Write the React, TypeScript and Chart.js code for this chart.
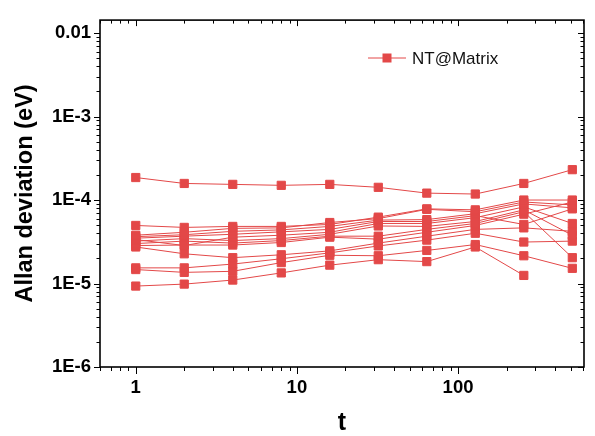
import { useEffect, useRef } from 'react';
import { Chart, registerables } from 'chart.js';

Chart.register(...registerables);

// averaging time t (s)
const tauValues = [1, 2, 4, 8, 16, 32, 64, 128, 256, 512];

// Allan deviation (eV) of each run
const run01 = [1.86e-4, 1.58e-4, 1.54e-4, 1.5e-4, 1.54e-4, 1.42e-4, 1.21e-4, 1.18e-4, 1.58e-4, 2.31e-4];
const run02 = [4.96e-5, 4.7e-5, 4.83e-5, 4.83e-5, 5.1e-5, 6.24e-5, 7.84e-5, 7.63e-5, 1.0e-4, 1.0e-4];
const run03 = [3.79e-5, 4.11e-5, 4.58e-5, 4.64e-5, 5.38e-5, 5.99e-5, 7.74e-5, 7.24e-5, 9.47e-5, 8.74e-5];
const run04 = [3.64e-5, 3.84e-5, 4.22e-5, 4.39e-5, 4.83e-5, 5.75e-5, 5.83e-5, 6.86e-5, 8.98e-5, 8.06e-5];
const run05 = [3.49e-5, 3.69e-5, 3.89e-5, 4.16e-5, 4.45e-5, 5.53e-5, 5.53e-5, 6.5e-5, 5.1e-5, 7.84e-5];
const run06 = [3.36e-5, 2.85e-5, 3.59e-5, 3.79e-5, 4.11e-5, 5.24e-5, 5.24e-5, 6.15e-5, 8.28e-5, 5.24e-5];
const run07 = [3.22e-5, 3.45e-5, 3.27e-5, 3.45e-5, 3.89e-5, 4.89e-5, 4.83e-5, 5.53e-5, 7.63e-5, 3.79e-5];
const run08 = [3.01e-5, 3.22e-5, 3.05e-5, 3.27e-5, 3.69e-5, 3.69e-5, 4.45e-5, 5.24e-5, 7.24e-5, 2.04e-5];
const run09 = [2.85e-5, 2.89e-5, 2.89e-5, 3.1e-5, 3.59e-5, 3.4e-5, 4.11e-5, 4.96e-5, 6.77e-5, 9.47e-5];
const run10 = [2.74e-5, 2.27e-5, 2.04e-5, 2.21e-5, 2.46e-5, 3.05e-5, 3.69e-5, 4.45e-5, 4.64e-5, 4.22e-5];
const run11 = [1.54e-5, 1.54e-5, 1.71e-5, 1.98e-5, 2.33e-5, 2.82e-5, 3.31e-5, 4.0e-5, 3.14e-5, 3.22e-5];
const run12 = [1.47e-5, 1.36e-5, 1.4e-5, 1.78e-5, 2.18e-5, 2.15e-5, 2.49e-5, 2.93e-5, 2.15e-5, 1.52e-5];
const run13 = [9.32e-6, 9.84e-6, 1.1e-5, 1.34e-5, 1.66e-5, 1.93e-5, 1.83e-5, 2.74e-5, 1.25e-5, null];

const runs = [run01, run02, run03, run04, run05, run06, run07, run08, run09, run10, run11, run12, run13];

const legendLabel = 'NT@Matrix';
const xTitle = 't';
const yTitle = 'Allan deviation (eV)';
const xTickValues = [1, 10, 100];
const xTickLabels = ['1', '10', '100'];
const yTickValues = [1e-6, 1e-5, 1e-4, 1e-3, 1e-2];
const yTickLabels = ['1E-6', '1E-5', '1E-4', '1E-3', '0.01'];

const FONT = '"Liberation Sans", Arial, sans-serif';
const RED = '#E34848';

function labelFor(v: number, vals: number[], labels: string[]) {
  for (let i = 0; i < vals.length; i++) {
    if (Math.abs(Math.log10(v) - Math.log10(vals[i])) < 1e-6) return labels[i];
  }
  return '';
}

const framePlugin = {
  id: 'frameTicks',
  afterDraw(chart: any) {
    const { ctx, chartArea: a, scales } = chart;
    const xs = scales.x;
    const ys = scales.y;
    const seg = (x1: number, y1: number, x2: number, y2: number) => {
      ctx.beginPath();
      ctx.moveTo(x1, y1);
      ctx.lineTo(x2, y2);
      ctx.stroke();
    };
    ctx.save();
    ctx.strokeStyle = '#000';
    ctx.lineWidth = 1;
    for (let e = -1; e <= 3; e++) {
      for (let m = 1; m <= 9; m++) {
        const v = m * Math.pow(10, e);
        if (v < xs.min || v > xs.max) continue;
        const px = Math.round(xs.getPixelForValue(v)) + 0.5;
        const major = m === 1;
        seg(px, a.bottom, px, a.bottom + (major ? 7 : 4));
        seg(px, a.top, px, a.top + (major ? 6 : 3.5));
      }
    }
    for (let e = -6; e <= -2; e++) {
      for (let m = 1; m <= 9; m++) {
        const v = m * Math.pow(10, e);
        if (v < ys.min * 0.999 || v > ys.max) continue;
        const py = Math.round(ys.getPixelForValue(v)) + 0.5;
        const major = m === 1;
        seg(a.left, py, a.left - (major ? 6 : 3.5), py);
        seg(a.right, py, a.right - (major ? 6 : 3.5), py);
      }
    }
    ctx.lineWidth = 1.6;
    ctx.strokeRect(a.left, a.top, a.right - a.left, a.bottom - a.top);
    ctx.restore();
  },
};

const legendPlugin = {
  id: 'insideLegend',
  afterDraw(chart: any) {
    const { ctx } = chart;
    const cy = 58;
    ctx.save();
    ctx.strokeStyle = RED;
    ctx.lineWidth = 1;
    ctx.beginPath();
    ctx.moveTo(368, cy);
    ctx.lineTo(406, cy);
    ctx.stroke();
    ctx.fillStyle = RED;
    ctx.fillRect(382.5, cy - 4.5, 9, 9);
    ctx.fillStyle = '#111';
    ctx.font = `17px ${FONT}`;
    ctx.textBaseline = 'middle';
    ctx.textAlign = 'left';
    ctx.fillText(legendLabel, 412, cy + 1);
    ctx.restore();
  },
};

export default function App() {
  const canvasRef = useRef<HTMLCanvasElement | null>(null);

  useEffect(() => {
    if (!canvasRef.current) return;
    const datasets = runs.map((r, i) => ({
      label: i === 0 ? legendLabel : `${legendLabel} ${i + 1}`,
      data: r,
      borderColor: RED,
      backgroundColor: RED,
      pointBackgroundColor: RED,
      pointBorderColor: RED,
      borderWidth: 1,
      pointStyle: 'rect' as const,
      pointRadius: 5.8,
      pointBorderWidth: 1,
      tension: 0,
      spanGaps: false,
    }));
    const chart = new Chart(canvasRef.current, {
      type: 'line',
      data: { labels: tauValues, datasets },
      options: {
        responsive: false,
        animation: false,
        layout: { padding: { top: 12, right: 11, left: 0, bottom: 0 } },
        plugins: { legend: { display: false }, tooltip: { enabled: false } },
        scales: {
          x: {
            type: 'logarithmic',
            min: 0.6,
            max: 605,
            afterFit: (s: any) => {
              s.height = 69;
            },
            afterBuildTicks: (s: any) => {
              s.ticks = xTickValues.map((v) => ({ value: v }));
            },
            grid: { display: false, drawTicks: false },
            border: { display: false },
            ticks: {
              autoSkip: false,
              maxRotation: 0,
              padding: 10,
              color: '#000',
              font: { family: FONT, size: 18.5, weight: 'bold' },
              callback: (v: any) => labelFor(Number(v), xTickValues, xTickLabels),
            },
            title: {
              display: true,
              text: xTitle,
              color: '#000',
              font: { family: FONT, size: 25, weight: 'bold', lineHeight: 1 },
              padding: 0,
            },
          },
          y: {
            type: 'logarithmic',
            min: 1e-6,
            max: 0.0143,
            afterFit: (s: any) => {
              s.width = 100;
            },
            afterBuildTicks: (s: any) => {
              s.ticks = yTickValues.map((v) => ({ value: v }));
            },
            grid: { display: false, drawTicks: false },
            border: { display: false },
            ticks: {
              autoSkip: false,
              padding: 9,
              color: '#000',
              font: { family: FONT, size: 18.5, weight: 'bold' },
              callback: (v: any) => labelFor(Number(v), yTickValues, yTickLabels),
            },
            title: {
              display: true,
              text: yTitle,
              color: '#000',
              font: { family: FONT, size: 23.5, weight: 'bold', lineHeight: 1.2 },
              padding: { top: 11, bottom: 0 },
            },
          },
        },
      },
      plugins: [framePlugin, legendPlugin],
    } as any);
    return () => chart.destroy();
  }, []);

  return (
    <div style={{ position: 'fixed', left: 0, top: 0, width: 595, height: 436, background: '#fff' }}>
      <canvas ref={canvasRef} width={595} height={436} style={{ width: 595, height: 436, display: 'block' }} />
    </div>
  );
}
